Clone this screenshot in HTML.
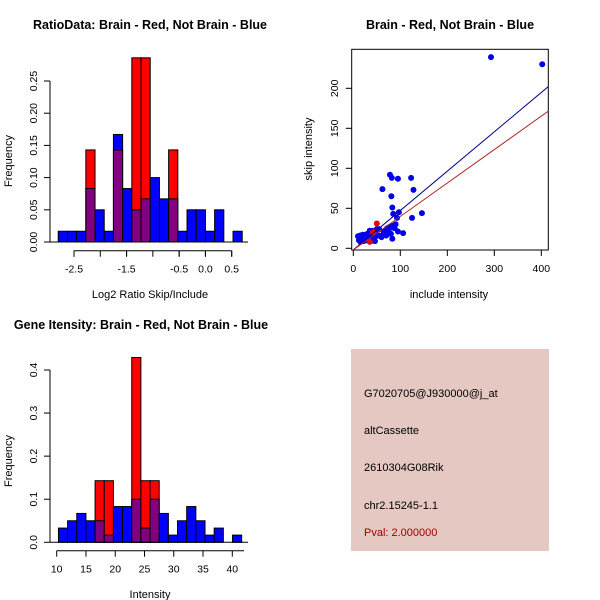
<!DOCTYPE html>
<html><head><meta charset="utf-8"><style>
html,body{margin:0;padding:0;background:#fff;}
svg{display:block;font-family:"Liberation Sans",sans-serif;}
</style></head><body>
<svg id="s" width="600" height="600" viewBox="0 0 600 600">
<text x="150" y="29" text-anchor="middle" font-size="12.5" font-weight="bold">RatioData: Brain - Red, Not Brain - Blue</text>
<text x="450" y="29" text-anchor="middle" font-size="12.5" font-weight="bold">Brain - Red, Not Brain - Blue</text>
<text x="141" y="329" text-anchor="middle" font-size="12.5" font-weight="bold">Gene Itensity: Brain - Red, Not Brain - Blue</text>
<text x="150" y="298" text-anchor="middle" font-size="11">Log2 Ratio Skip/Include</text>
<text x="449" y="298" text-anchor="middle" font-size="11">include intensity</text>
<text x="150" y="598" text-anchor="middle" font-size="11">Intensity</text>
<text transform="translate(12,161) rotate(-90)" text-anchor="middle" font-size="11">Frequency</text>
<text transform="translate(12,461) rotate(-90)" text-anchor="middle" font-size="11">Frequency</text>
<text transform="translate(312,149) rotate(-90)" text-anchor="middle" font-size="11">skip intensity</text>
<g>
<rect x="351" y="349" width="198" height="202" fill="#e5c8c2"/>
<text x="364" y="397" font-size="11">G7020705@J930000@j_at</text>
<text x="364" y="434" font-size="11">altCassette</text>
<text x="364" y="471" font-size="11">2610304G08Rik</text>
<text x="364" y="509" font-size="11">chr2.15245-1.1</text>
<text x="364" y="536" font-size="11" fill="#a00000">Pval: 2.000000</text>
</g>
</svg>
<script>
// ---- Ratio histogram data ----
const ratioBreaks0 = -2.8, ratioBinW = 0.175;
const ratioBlue = [0.0167,0.0167,0.0167,0.083,0.05,0.0167,0.167,0.083,0.05,0.067,0.1,0.067,0.067,0.0167,0.05,0.05,0.0167,0.05,0,0.0167];
const ratioRed  = [0,0,0,0.143,0,0,0.143,0,0.286,0.286,0,0,0.143,0,0,0,0,0,0,0];
const ratioXTicks = [-2.5,-1.5,-0.5,0.0,0.5];
const ratioXLabels = ["-2.5","-1.5","-0.5","0.0","0.5"];
const ratioXMinor = [-2.5,-2.0,-1.5,-1.0,-0.5,0.0,0.5];
const ratioYTicks = [0,0.05,0.10,0.15,0.20,0.25];
const ratioYLabels = ["0.00","0.05","0.10","0.15","0.20","0.25"];
// ---- Intensity histogram data ----
const intBreaks0 = 10.3, intBinW = 1.565;
const intBlue = [0.033,0.05,0.067,0.05,0.05,0.0167,0.083,0.083,0.1,0.033,0.1,0.067,0.0167,0.05,0.083,0.05,0.0167,0.033,0,0.0167];
const intRed  = [0,0,0,0,0.143,0.143,0,0,0.429,0.143,0.143,0,0,0,0,0,0,0,0,0];
const intXTicks = [10,15,20,25,30,35,40];
const intXLabels = ["10","15","20","25","30","35","40"];
const intYTicks = [0,0.1,0.2,0.3,0.4];
const intYLabels = ["0.0","0.1","0.2","0.3","0.4"];
// ---- Scatter data ----
const blueX = [293,402,78,82,95,123,62,128,81,83,146,97,125,85,93,106,95,84,83,80,83,60,70,75,72,55,50,45,40,35,30,25,20,15,10,12,18,22,28,32,38,42,46,48,36,65,90,88,15,55,68,78];
const blueY = [239,230,92,88,87,88,74,73,65,51,44,45,38,43,38,19,21,28,26,18,12,14,16,21,25,24,24,21,22,22,18,17,17,16,15,10,12,9,10,12,9,13,9,15,14,20,30,25,8,16,22,27];
const redX = [50,42,35];
const redY = [31,20,8];
const blueFit = [-2, 0.492]; // intercept, slope
const redFit = [-2, 0.418];
const scXTicks = [0,100,200,300,400];
const scYTicks = [0,50,100,150,200];

const svg = document.getElementById('s');
const NS = 'http://www.w3.org/2000/svg';
function mk(tag, attrs, parent){const e=document.createElementNS(NS,tag);for(const k in attrs)e.setAttribute(k,attrs[k]);(parent||svg).appendChild(e);return e;}

function hist(prefix, breaks0, binW, blue, red, xs, ys, xTicks, xLabels, yTicks, yLabels, axisY, axisX0, axisX1){
  const g = mk('g',{});
  
  
  for(let i=0;i<blue.length;i++){
    const x0=xs(breaks0+i*binW), x1=xs(breaks0+(i+1)*binW);
    const b=blue[i], r=red[i];
    const top=Math.max(b,r), ov=Math.min(b,r);
    if(top<=0) continue;
    const r1=mk('rect',{x:x0,y:ys(top),width:x1-x0,height:ys(0)-ys(top),fill:(r>b?'#ff0000':'#0000ff'),stroke:'#000','stroke-width':1},g);
    
    
    if(ov>0 && r>0 && b>0){
      const r2=mk('rect',{x:x0,y:ys(ov),width:x1-x0,height:ys(0)-ys(ov),fill:'#800080',stroke:'#000','stroke-width':1},g);
      
      
    }
  }
  mk('line',{x1:50,x2:248,y1:ys(0),y2:ys(0),stroke:'#000'},g);
  const ya=mk('g',{},g);
  
  
  mk('line',{x1:50,x2:50,y1:ys(yTicks[0]),y2:ys(yTicks[yTicks.length-1]),stroke:'#000'},ya);
  yTicks.forEach((t,i)=>{
    mk('line',{x1:44,x2:50,y1:ys(t),y2:ys(t),stroke:'#000'},ya);
    const tx=mk('text',{transform:`translate(37,${ys(t)}) rotate(-90)`,'text-anchor':'middle','font-size':10.5},ya);
    tx.textContent=yLabels[i];
  });
  const xa=mk('g',{},g);
  
  
  mk('line',{x1:axisX0,x2:axisX1,y1:axisY,y2:axisY,stroke:'#000'},xa);
  xTicks.forEach((t,i)=>{
    mk('line',{x1:xs(t),x2:xs(t),y1:axisY,y2:axisY+6,stroke:'#000'},xa);
    const tx=mk('text',{x:xs(t),y:axisY+22,'text-anchor':'middle','font-size':10.5},xa);
    tx.textContent=xLabels[i];
  });
}
const rxs=v=>74+(v+2.5)*52.57, rys=v=>242-v*644;
hist('ratio',ratioBreaks0,ratioBinW,ratioBlue,ratioRed,rxs,rys,ratioXTicks,ratioXLabels,ratioYTicks,ratioYLabels,250.7,rxs(-2.5),rxs(0.5));
ratioXMinor.forEach(t=>{mk('line',{x1:rxs(t),x2:rxs(t),y1:250.7,y2:256.7,stroke:'#000'});});
const ixs=v=>56.7+(v-10)*5.853, iys=v=>542.3-v*430.8;
hist('intensity',intBreaks0,intBinW,intBlue,intRed,ixs,iys,intXTicks,intXLabels,intYTicks,intYLabels,550.7,ixs(10),ixs(42));

const sxs=v=>353.3+v*0.47, sys=v=>248.3-v*0.8;
const sg=mk('g',{});


const box=mk('rect',{x:351.7,y:49.3,width:196.6,height:200.7,fill:'none',stroke:'#000'},sg);


scXTicks.forEach(t=>{
  mk('line',{x1:sxs(t),x2:sxs(t),y1:250,y2:256,stroke:'#000'},sg);
  const tx=mk('text',{x:sxs(t),y:272,'text-anchor':'middle','font-size':10.5},sg);
  tx.textContent=String(t);
});
scYTicks.forEach(t=>{
  mk('line',{x1:345.7,x2:351.7,y1:sys(t),y2:sys(t),stroke:'#000'},sg);
  const tx=mk('text',{transform:`translate(338,${sys(t)}) rotate(-90)`,'text-anchor':'middle','font-size':10.5},sg);
  tx.textContent=String(t);
});
const cp=mk('clipPath',{id:'scclip'},sg);
mk('rect',{x:351.7,y:49.3,width:196.6,height:200.7},cp);
const pg=mk('g',{'clip-path':'url(#scclip)'},sg);
blueX.forEach((x,i)=>{
  const c=mk('circle',{cx:sxs(x),cy:sys(blueY[i]),r:3,fill:'#0000ee'},pg);
  
  
});
redX.forEach((x,i)=>{
  const c=mk('circle',{cx:sxs(x),cy:sys(redY[i]),r:3,fill:'#ee0000'},pg);
  
  
});
const bl=mk('line',{x1:sxs(-5),y1:sys(blueFit[0]+blueFit[1]*-5),x2:sxs(420),y2:sys(blueFit[0]+blueFit[1]*420),stroke:'#00008b','stroke-width':1},pg);


const rl=mk('line',{x1:sxs(-5),y1:sys(redFit[0]+redFit[1]*-5),x2:sxs(420),y2:sys(redFit[0]+redFit[1]*420),stroke:'#b22222','stroke-width':1},pg);


</script>
</body></html>
